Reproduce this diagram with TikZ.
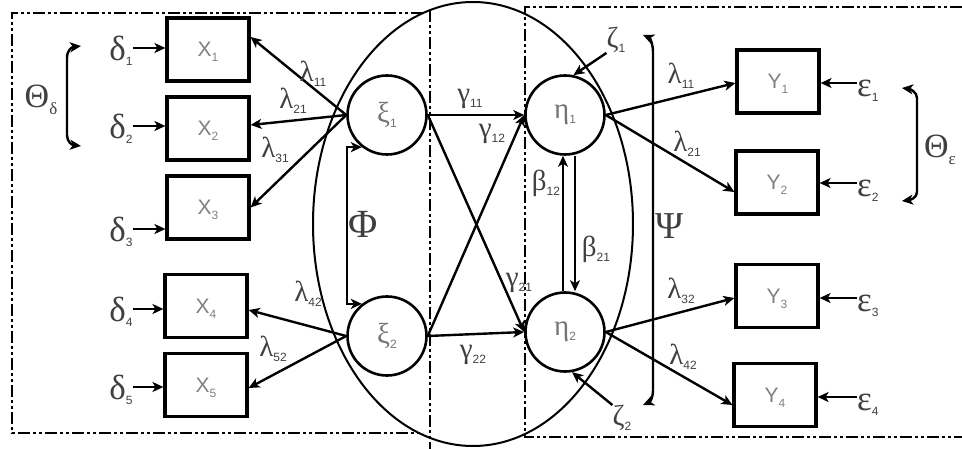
\documentclass[tikz,border=0pt]{standalone}
\usepackage{fontspec}
\setmainfont{Liberation Serif}
\newfontfamily\arialfont{Liberation Sans}
\usetikzlibrary{arrows.meta, calc}

\newcommand{\sbs}[1]{{\arialfont\fontsize{12}{12}\selectfont\raisebox{-5pt}[0pt][0pt]{#1}}}
\newcommand{\gk}[2]{{\fontsize{29}{29}\selectfont #1}\sbs{#2}}
\newcommand{\gkb}[2]{{\fontsize{35}{35}\selectfont #1}\sbs{#2}}
\newcommand{\vname}[2]{{\arialfont\fontsize{21}{21}\selectfont #1}\sbs{#2}}

\begin{document}
\begin{tikzpicture}[x=1pt, y=-1pt, >={Stealth[length=11pt, width=10pt, inset=3pt]},
  obsbox/.style={draw, line width=3.2pt, minimum width=82pt, minimum height=63pt, inner sep=0pt, text=black!50},
  latent/.style={draw, circle, line width=2.6pt, minimum size=79pt, inner sep=0pt, text=black!55},
  lbl/.style={inner sep=0pt, text=black!75},
  link/.style={->, line width=2.4pt},
  thinlink/.style={->, line width=1.4pt},
  dashframe/.style={line width=2pt, dash pattern=on 12pt off 3pt on 3pt off 3pt on 3pt off 3pt}]
  \useasboundingbox (0,0) rectangle (962,449);
  % frames and ellipse
  \draw[dashframe] (423,13) -- (12,13) -- (12,433) -- (423,433);
  \draw[dashframe] (430,10) -- (430,449);
  \draw[dashframe] (962,7) -- (525,7) -- (525,437) -- (962,437);
  \draw[line width=2pt] (473,224) ellipse [x radius=160, y radius=222];
  % observed variables
  \foreach \i/\xx/\yy in {1/208/49.5, 2/208/128.5, 3/208/207.5, 4/206/306, 5/206/385}
    \node[obsbox] (x\i) at (\xx,\yy) {\vname{X}{\i}};
  \foreach \i/\xx/\yy in {1/778/81.5, 2/777/182.5, 3/777/296, 4/775/395}
    \node[obsbox] (y\i) at (\xx,\yy) {\vname{Y}{\i}};
  % latent variables
  \node[latent] (xi1) at (387,115) {\gk{ξ}{1}};
  \node[latent] (xi2) at (387,336) {\gk{ξ}{2}};
  \node[latent] (eta1) at (565,115) {\gk{η}{1}};
  \node[latent] (eta2) at (565,332) {\gk{η}{2}};
  % error terms
  \foreach \i/\yy in {1/48, 2/126, 3/229, 4/309, 5/387}{
    \node[lbl] (d\i) at (121,\yy) {\gkb{δ}{\i}};
    \draw[link] (d\i.east) -- (d\i.east -| x\i.west);
  }
  \foreach \i/\yy in {1/83, 2/183, 3/298, 4/397}{
    \node[lbl, anchor=west] (e\i) at (857,\yy+5) {\gkb{ε}{\i}};
    \draw[link] (e\i.west) ++(0,-5) -- (y\i.east |- 0,\yy);
  }
  % loadings
  \draw[link] (xi1.west) -- ([yshift=12.5pt]x1.east);
  \draw[link] (xi1.west) -- ([yshift=3.5pt]x2.east);
  \draw[link] (xi1.west) -- (x3.east);
  \draw[link] (xi2.west) -- ([yshift=-4pt]x4.east);
  \draw[link] (xi2.west) -- ([yshift=-3pt]x5.east);
  \draw[link] (eta1.east) -- ([yshift=-1.5pt]y1.west);
  \draw[link] (eta1.east) -- ([yshift=-9.5pt]y2.west);
  \draw[link] (eta2.east) -- ([yshift=-2pt]y3.west);
  \draw[link] (eta2.east) -- ([yshift=-10pt]y4.west);
  \node[lbl] (lx11) at (313,71) {\gk{λ}{11}};
  \node[lbl] (lx21) at (293,98) {\gk{λ}{21}};
  \node[lbl] (lx31) at (275,147) {\gk{λ}{31}};
  \node[lbl] (lx42) at (308,291) {\gk{λ}{42}};
  \node[lbl] (lx52) at (273,346) {\gk{λ}{52}};
  \node[lbl] (ly11) at (681,73) {\gk{λ}{11}};
  \node[lbl] (ly21) at (687,141) {\gk{λ}{21}};
  \node[lbl] (ly32) at (681,288) {\gk{λ}{32}};
  \node[lbl] (ly42) at (683,354) {\gk{λ}{42}};
  % structural paths
  \draw[thinlink] (xi1.east) -- (eta1.west);
  \draw[link] (xi1.east) -- (eta2.west);
  \draw[link] (xi2.east) -- (eta1.west);
  \draw[link] (xi2.east) -- (eta2.west);
  \draw[thinlink] ([xshift=-2pt]eta2.north) -- ([xshift=-2pt]eta1.south);
  \draw[link] ([xshift=10pt]eta1.south) -- ([xshift=10pt]eta2.north);
  \node[lbl] (g11) at (470,99) {\gk{γ}{11}};
  \node[lbl] (g12) at (492,134) {\gk{γ}{12}};
  \node[lbl] (g21) at (519,283) {\gk{γ}{21}};
  \node[lbl] (g22) at (473,355) {\gk{γ}{22}};
  \node[lbl] (b12) at (546,183) {\gk{β}{12}};
  \node[lbl] (b21) at (596,249) {\gk{β}{21}};
  % disturbances
  \node[lbl] (z1) at (616,40) {\gk{ζ}{1}};
  \draw[link] (z1.south west) -- (eta1.78);
  \node[lbl] (z2) at (622,418) {\gk{ζ}{2}};
  \draw[link] (z2.north west) -- (eta2.-80);
  % covariances
  \draw[<->, line width=2.4pt] (xi1.232) -- ++(-15,0) |- (xi2.128);
  \node[lbl] (phi) at (363,224) {\fontsize{40}{40}\selectfont Φ};
  \draw[<->, line width=2.4pt] (643,35) .. controls (650,38) and (653,44) .. (653,52) -- (653,390) .. controls (653,398) and (650,402) .. (643,405);
  \node[lbl] (psi) at (670,226) {\fontsize{38}{38}\selectfont Ψ};
  \draw[<->, line width=2.4pt] (81,46) .. controls (72,47) and (67,50) .. (67,58) -- (67,135) .. controls (67,142) and (72,145) .. (81,146);
  \node[lbl] (thd) at (41,100) {{\fontsize{34}{34}\selectfont Θ}{\fontsize{17}{17}\selectfont\raisebox{-7pt}{δ}}};
  \draw[<->, line width=2.4pt] (902,88) .. controls (910,89) and (917,92) .. (917,98) -- (917,192) .. controls (917,198) and (910,200) .. (902,201);
  \node[lbl] (the) at (940,150) {{\fontsize{34}{34}\selectfont Θ}{\fontsize{17}{17}\selectfont\raisebox{-7pt}{ε}}};
\end{tikzpicture}
\end{document}
